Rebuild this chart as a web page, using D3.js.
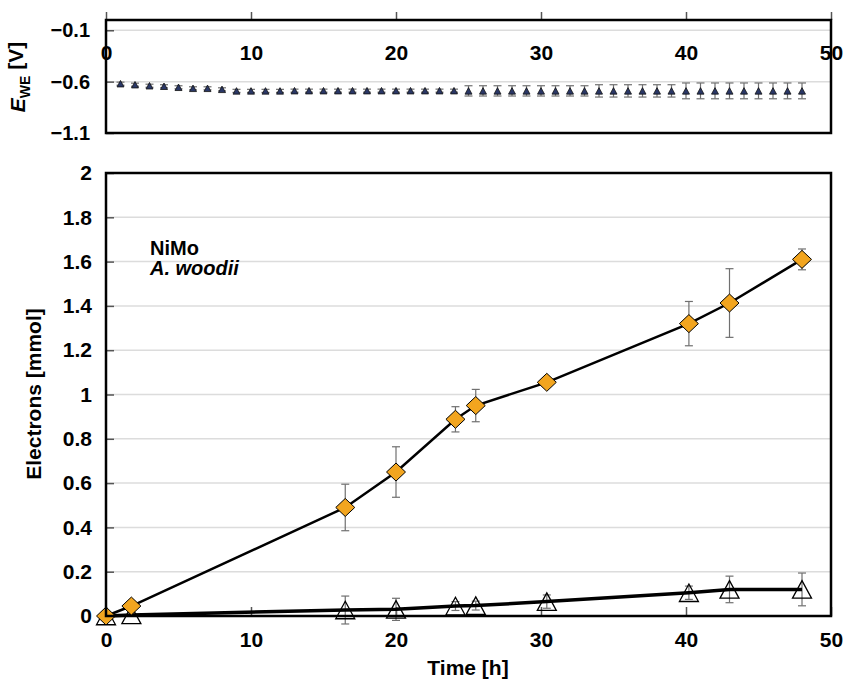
<!DOCTYPE html>
<html>
<head>
    <meta charset='utf-8' />
    <title>NiMo A. woodii electrons</title>
    <style>
      body { margin: 0; background: #fff; }
      text { font-family: "Liberation Sans", Arial, Helvetica, sans-serif; font-weight: bold; }
    </style>
</head>
<body>
  <div id="wrapper"></div>
<script src='https://d3js.org/d3.v7.min.js' charset='utf-8'></script>
<script>
// electrode potential (top panel), one reading per hour
const eweHours = [1,2,3,4,5,6,7,8,9,10,11,12,13,14,15,16,17,18,19,20,21,22,23,24,
    25,26,27,28,29,30,31,32,33,34,35,36,37,38,39,40,41,42,43,44,45,46,47,48]
const eweValues = [-0.62,-0.63,-0.64,-0.645,-0.655,-0.665,-0.665,-0.675,-0.69,-0.69,-0.69,-0.69,
    -0.688,-0.688,-0.688,-0.688,-0.688,-0.688,-0.688,-0.688,-0.688,-0.688,-0.688,-0.688,
    -0.69,-0.69,-0.69,-0.69,-0.69,-0.69,-0.69,-0.69,-0.69,-0.69,-0.69,-0.69,-0.69,-0.69,-0.69,
    -0.69,-0.69,-0.69,-0.69,-0.69,-0.69,-0.69,-0.69,-0.69]
const eweErr = [0.015,0.015,0.015,0.015,0.015,0.015,0.015,0.015,0.015,0.015,0.015,0.015,
    0.015,0.015,0.015,0.015,0.015,0.015,0.015,0.015,0.015,0.015,0.015,0.015,
    0.05,0.05,0.05,0.05,0.05,0.05,0.05,0.05,0.05,
    0.06,0.06,0.06,0.06,0.06,0.06,
    0.077,0.077,0.077,0.077,0.077,0.077,0.077,0.077,0.077]

// electrons (main panel)
const times = [0, 1.75, 16.5, 20, 24.1, 25.5, 30.4, 40.2, 43, 48]
const nimo = [0, 0.045, 0.49, 0.65, 0.888, 0.95, 1.055, 1.32, 1.413, 1.61]
const nimoErr = [0, 0, 0.105, 0.114, 0.057, 0.073, 0.01, 0.1, 0.155, 0.047]
const control = [0, 0.005, 0.027, 0.03, 0.045, 0.047, 0.065, 0.105, 0.12, 0.12]
const controlErr = [0, 0, 0.063, 0.05, 0.02, 0.02, 0.03, 0.03, 0.06, 0.074]

const xTicks = [0, 10, 20, 30, 40, 50]
const eweTicks = [-1.1, -0.6, -0.1]
const eTicks = [0, 0.2, 0.4, 0.6, 0.8, 1, 1.2, 1.4, 1.6, 1.8, 2]

const width = 843
const height = 679
const left = 106, right = 831
const topT = 20, topB = 133
const mainT = 173, mainB = 616

const svg = d3.select('#wrapper').append('svg')
    .attr('width', width)
    .attr('height', height)

const x = d3.scaleLinear().domain([0, 50]).range([left, right])
const yTop = d3.scaleLinear().domain([-1.1, 0]).range([topB, topT])
const y = d3.scaleLinear().domain([0, 2]).range([mainB, mainT])

const fmtMinus = d => d3.format('')(d).replace('-', '\u2212')

function tri(w, h) {
    return 'M0,' + (-h / 2) + 'L' + (w / 2) + ',' + (h / 2) + 'L' + (-w / 2) + ',' + (h / 2) + 'Z'
}
function diamond(w, h) {
    return 'M0,' + (-h / 2) + 'L' + (w / 2) + ',0L0,' + (h / 2) + 'L' + (-w / 2) + ',0Z'
}

function errorBars(g, xs, ys, errs, yScale, cap) {
    const d = xs.map((t, i) => ({t: t, v: ys[i], e: errs[i]})).filter(p => p.e > 0)
    const eg = g.append('g').attr('stroke', '#707070').attr('stroke-width', 1.2)
    eg.selectAll('line.v').data(d).join('line')
        .attr('x1', p => x(p.t)).attr('x2', p => x(p.t))
        .attr('y1', p => yScale(p.v - p.e)).attr('y2', p => yScale(p.v + p.e))
    eg.selectAll('line.t').data(d).join('line')
        .attr('x1', p => x(p.t) - cap).attr('x2', p => x(p.t) + cap)
        .attr('y1', p => yScale(p.v + p.e)).attr('y2', p => yScale(p.v + p.e))
    eg.selectAll('line.b').data(d).join('line')
        .attr('x1', p => x(p.t) - cap).attr('x2', p => x(p.t) + cap)
        .attr('y1', p => yScale(p.v - p.e)).attr('y2', p => yScale(p.v - p.e))
}

// ---------- top panel ----------
const topPanel = svg.append('g')

topPanel.append('g').selectAll('line').data(eweTicks.filter(d => d > -1.1)).join('line')
    .attr('x1', left).attr('x2', right)
    .attr('y1', d => yTop(d)).attr('y2', d => yTop(d))
    .attr('stroke', '#dcdcdc').attr('stroke-width', 1.5)

const yTopAxis = topPanel.append('g')
    .attr('transform', 'translate(' + left + ',0)')
    .call(d3.axisLeft(yTop).tickValues(eweTicks).tickSizeInner(-8).tickSizeOuter(0).tickPadding(16).tickFormat(fmtMinus))
yTopAxis.select('.domain').remove()
yTopAxis.selectAll('line').attr('stroke', '#555').attr('stroke-width', 1.5)
yTopAxis.selectAll('text').attr('font-size', 20).attr('fill', '#000')

const xTopAxis = topPanel.append('g')
    .attr('transform', 'translate(0,' + topT + ')')
    .call(d3.axisTop(x).tickValues(xTicks).tickSizeInner(8).tickSizeOuter(0))
xTopAxis.select('.domain').remove()
xTopAxis.selectAll('line').attr('stroke', '#555').attr('stroke-width', 1.5)
xTopAxis.selectAll('text').attr('font-size', 21).attr('fill', '#000')
    .attr('y', 32).attr('dy', '0.36em')

errorBars(topPanel, eweHours, eweValues, eweErr, yTop, 4)

topPanel.append('g').selectAll('path').data(eweHours).join('path')
    .attr('transform', (t, i) => 'translate(' + x(t) + ',' + yTop(eweValues[i]) + ')')
    .attr('d', tri(7, 6.5))
    .attr('fill', '#2a3766')
    .attr('stroke', '#111')
    .attr('stroke-width', 0.8)

topPanel.append('rect')
    .attr('x', left).attr('y', topT)
    .attr('width', right - left).attr('height', topB - topT)
    .attr('fill', 'none').attr('stroke', '#000').attr('stroke-width', 2.5)

const eLabel = topPanel.append('text')
    .attr('transform', 'translate(25,77) rotate(-90)')
    .attr('text-anchor', 'middle')
    .attr('font-size', 21)
eLabel.append('tspan').attr('font-style', 'italic').text('E')
eLabel.append('tspan').attr('font-size', 14).attr('dy', '0.35em').text('WE')
eLabel.append('tspan').attr('dy', '-0.35em').text(' [V]')

// ---------- main panel ----------
const main = svg.append('g')

main.append('g').selectAll('line').data(eTicks.filter(d => d > 0 && d < 2)).join('line')
    .attr('x1', left).attr('x2', right)
    .attr('y1', d => y(d)).attr('y2', d => y(d))
    .attr('stroke', '#dcdcdc').attr('stroke-width', 1.5)

const yAxis = main.append('g')
    .attr('transform', 'translate(' + left + ',0)')
    .call(d3.axisLeft(y).tickValues(eTicks).tickSizeInner(-8).tickSizeOuter(0).tickPadding(14).tickFormat(d3.format('')))
yAxis.select('.domain').remove()
yAxis.selectAll('line').attr('stroke', '#555').attr('stroke-width', 1.5)
yAxis.selectAll('text').attr('font-size', 21).attr('fill', '#000')

const xAxis = main.append('g')
    .attr('transform', 'translate(0,' + mainB + ')')
    .call(d3.axisBottom(x).tickValues(xTicks).tickSizeInner(-9).tickSizeOuter(0).tickPadding(16))
xAxis.select('.domain').remove()
xAxis.selectAll('line').attr('stroke', '#555').attr('stroke-width', 1.5)
xAxis.selectAll('text').attr('font-size', 21).attr('fill', '#000')

errorBars(main, times, control, controlErr, y, 4)
errorBars(main, times, nimo, nimoErr, y, 4)

const line = d3.line().x(d => x(d[0])).y(d => y(d[1]))

main.append('path')
    .datum(times.map((t, i) => [t, control[i]]))
    .attr('d', line)
    .attr('fill', 'none').attr('stroke', '#000').attr('stroke-width', 3.5)

main.append('g').selectAll('path').data(times).join('path')
    .attr('transform', (t, i) => 'translate(' + x(t) + ',' + y(control[i]) + ')')
    .attr('d', tri(19, 17.5))
    .attr('fill', 'none').attr('stroke', '#000').attr('stroke-width', 1.3)

main.append('path')
    .datum(times.map((t, i) => [t, nimo[i]]))
    .attr('d', line)
    .attr('fill', 'none').attr('stroke', '#000').attr('stroke-width', 2.5)

main.append('g').selectAll('path').data(times).join('path')
    .attr('transform', (t, i) => 'translate(' + x(t) + ',' + y(nimo[i]) + ')')
    .attr('d', diamond(19, 18))
    .attr('fill', '#f2a51f').attr('stroke', '#000').attr('stroke-width', 1)

main.append('rect')
    .attr('x', left).attr('y', mainT)
    .attr('width', right - left).attr('height', mainB - mainT)
    .attr('fill', 'none').attr('stroke', '#000').attr('stroke-width', 2.5)

main.append('text')
    .attr('x', 150).attr('y', 255)
    .attr('font-size', 20)
    .text('NiMo')
main.append('text')
    .attr('x', 150).attr('y', 275)
    .attr('font-size', 20)
    .attr('font-style', 'italic')
    .text('A. woodii')

main.append('text')
    .attr('transform', 'translate(41,394) rotate(-90)')
    .attr('text-anchor', 'middle')
    .attr('font-size', 21)
    .text('Electrons [mmol]')

main.append('text')
    .attr('x', 468).attr('y', 675)
    .attr('text-anchor', 'middle')
    .attr('font-size', 21)
    .text('Time [h]')
</script>
</body>
</html>
